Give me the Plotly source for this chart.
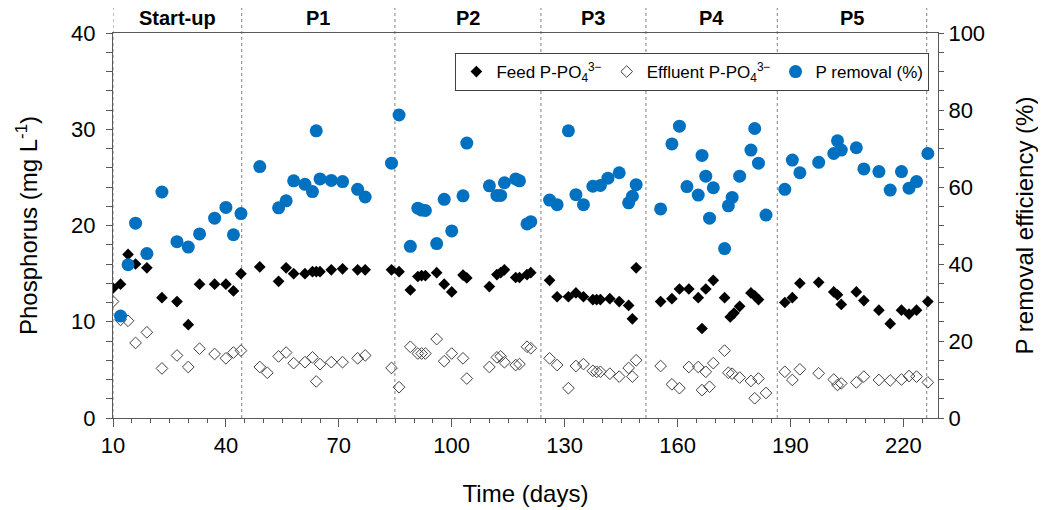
import plotly.graph_objects as go

# ---------------- data ----------------
feed_days = [10, 12, 14, 16, 19, 23, 27, 30, 33, 37, 40, 42, 44,
             49, 54, 56, 58, 61, 63, 64, 65, 68, 71, 75, 77,
             84, 86, 89, 91, 92, 93, 96, 98, 100, 103, 104, 110, 112, 113, 114, 117, 118, 120, 121,
             126, 128, 131, 133, 135, 137.5, 138.5, 139.5, 142, 144.5, 147, 148, 149,
             155.5, 158.5, 160.5, 163, 165.5, 166.5, 167.5, 169.5, 172.5, 174, 175, 176.5, 179.5, 180.5, 181.5,
             188.5, 190.5, 192.5, 197.5, 201.5, 202.5, 203.5, 207.5, 209.5, 213.5, 216.5, 219.5, 221.5, 223.5, 226.5]
feed_vals = [13.5, 13.9, 17.0, 16.0, 15.6, 12.5, 12.1, 9.7, 13.9, 13.9, 13.9, 13.2, 15.0,
             15.7, 14.2, 15.6, 15.0, 15.0, 15.2, 15.2, 15.2, 15.4, 15.5, 15.4, 15.4,
             15.4, 15.2, 13.3, 14.7, 14.8, 14.8, 15.1, 13.9, 13.1, 14.85, 14.55, 13.65, 14.9, 15.1, 15.4, 14.6, 14.6, 14.9, 15.1,
             14.3, 12.6, 12.6, 13.0, 12.6, 12.3, 12.3, 12.3, 12.4, 12.1, 11.7, 10.3, 15.6,
             12.1, 12.4, 13.4, 13.4, 12.5, 9.3, 13.4, 14.3, 12.5, 10.5, 10.9, 11.6, 13.0, 12.7, 12.3,
             12.0, 12.5, 14.0, 14.1, 13.1, 12.8, 11.8, 13.1, 12.2, 11.2, 9.8, 11.2, 10.8, 11.2, 12.1]

eff_days = [10, 12, 14, 16, 19, 23, 27, 30, 33, 37, 40, 42, 44,
            49, 51, 54, 56, 58, 61, 63, 64, 65, 68, 71, 75, 77,
            84, 86, 89, 91, 92, 93, 96, 98, 100, 103, 104, 110, 112, 113, 114, 117, 118, 120, 121,
            126, 128, 131, 133, 135, 137.5, 138.5, 139.5, 142, 144.5, 147, 148, 149,
            155.5, 158.5, 160.5, 163, 165.5, 166.5, 167.5, 168.5, 169.5, 172.5, 173.5, 174.5, 176.5, 179.5, 180.5, 181.5, 183.5,
            188.5, 190.5, 192.5, 197.5, 201.5, 202.5, 203.5, 207.5, 209.5, 213.5, 216.5, 219.5, 221.5, 223.5, 226.5]
eff_vals = [12.1, 10.2, 10.1, 7.8, 8.9, 5.15, 6.5, 5.3, 7.2, 6.65, 6.2, 6.8, 7.0,
            5.3, 4.7, 6.4, 6.8, 5.7, 5.8, 6.3, 3.8, 5.6, 5.8, 5.8, 6.2, 6.5,
            5.2, 3.2, 7.4, 6.7, 6.7, 6.7, 8.2, 5.9, 6.7, 6.2, 4.1, 5.3, 6.3, 6.4, 5.8, 5.5, 5.6, 7.4, 7.25,
            6.2, 5.5, 3.1, 5.4, 5.6, 4.9, 4.8, 4.8, 4.6, 4.3, 5.2, 4.3, 6.0,
            5.4, 3.5, 3.1, 5.3, 5.3, 2.9, 4.8, 3.25, 5.7, 7.0, 4.7, 4.6, 4.2, 3.85, 2.05, 4.1, 2.6,
            4.8, 3.95, 5.06, 4.64, 4.0, 3.43, 3.6, 3.7, 4.3, 3.95, 3.9, 4.0, 4.36, 4.3, 3.7]

rem_days = [12, 14, 16, 19, 23, 27, 30, 33, 37, 40, 42, 44,
            49, 54, 56, 58, 61, 63, 64, 65, 68, 71, 75, 77,
            84, 86, 89, 91, 92, 93, 96, 98, 100, 103, 104, 110, 112, 113, 114, 117, 118, 120, 121,
            126, 128, 131, 133, 135, 137.5, 139.5, 141.5, 144.5, 147, 148, 149,
            155.5, 158.5, 160.5, 162.5, 165.5, 166.5, 167.5, 168.5, 169.5, 172.5, 173.5, 174.5, 176.5, 179.5, 180.5, 181.5, 183.5,
            188.5, 190.5, 192.5, 197.5, 201.5, 202.5, 203.5, 207.5, 209.5, 213.5, 216.5, 219.5, 221.5, 223.5, 226.5]
rem_vals = [26.5, 39.8, 50.6, 42.7, 58.7, 45.8, 44.4, 47.8, 51.9, 54.7, 47.6, 53.1,
            65.3, 54.6, 56.4, 61.6, 60.7, 58.8, 74.6, 62.1, 61.7, 61.4, 59.4, 57.4,
            66.2, 78.7, 44.6, 54.5, 54.0, 53.9, 45.3, 56.8, 48.6, 57.7, 71.4, 60.3, 57.8, 57.8, 61.1, 62.1, 61.6, 50.4, 51.0,
            56.6, 55.4, 74.6, 58.0, 55.4, 60.2, 60.4, 62.3, 63.7, 55.9, 57.6, 60.6,
            54.3, 71.2, 75.8, 60.1, 57.9, 68.2, 62.8, 51.9, 59.8, 44.0, 55.1, 57.3, 62.8, 69.6, 75.2, 66.2, 52.7,
            59.4, 67.0, 63.7, 66.4, 68.7, 72.0, 69.6, 70.2, 64.7, 64.0, 59.2, 64.0, 59.7, 61.4, 68.7]

phase_bounds = [10, 44.2, 84.9, 123.7, 151.6, 186.5, 226.2]
phase_names = ["Start-up", "P1", "P2", "P3", "P4", "P5"]

x_ticks = [10, 40, 70, 100, 130, 160, 190, 220]

# ---------------- figure ----------------
FONT = "Liberation Sans, Arial, sans-serif"
AX = "#595959"

fig = go.Figure()
fig.add_trace(go.Scatter(
    x=feed_days, y=feed_vals, mode="markers",
    name="Feed P-PO<sub>4</sub><sup>3−</sup>",
    marker=dict(symbol="diamond", size=9, color="black", line=dict(width=0)),
))
fig.add_trace(go.Scatter(
    x=eff_days, y=eff_vals, mode="markers",
    name="Effluent P-PO<sub>4</sub><sup>3−</sup>",
    marker=dict(symbol="diamond-open", size=9, color="#404040", line=dict(width=1, color="#404040")),
))
fig.add_trace(go.Scatter(
    x=rem_days, y=rem_vals, mode="markers", yaxis="y2",
    name="P removal (%)",
    marker=dict(symbol="circle", size=13, color="#0070C0", line=dict(width=0)),
))

shapes = []
for b in phase_bounds:
    shapes.append(dict(type="line", xref="x", yref="paper", x0=b, x1=b, y0=0, y1=1.073,
                       line=dict(color="#808080", width=1, dash="dot"), layer="below"))

annotations = []
for i, name in enumerate(phase_names):
    annotations.append(dict(x=(phase_bounds[i] + phase_bounds[i + 1]) / 2, y=1.04,
                            xref="x", yref="paper", text="<b>" + name + "</b>", showarrow=False,
                            font=dict(size=20, color="black", family=FONT), yanchor="middle"))

fig.update_layout(
    template="none",
    width=1046, height=510,
    margin=dict(l=105, r=116, t=25, b=100),
    paper_bgcolor="white", plot_bgcolor="white",
    font=dict(family=FONT, color="black", size=22),
    showlegend=True,
    legend=dict(orientation="h", x=0.415, y=0.948, xanchor="left", yanchor="top",
                bgcolor="white", bordercolor="#404040", borderwidth=1,
                font=dict(size=17, family=FONT, color="black"),
                tracegroupgap=0, itemwidth=30),
    xaxis=dict(range=[10, 229.2], tickvals=x_ticks, ticks="outside", ticklen=8, tickcolor=AX,
               showline=True, linecolor=AX, linewidth=1, mirror=True, showgrid=False, zeroline=False,
               tickfont=dict(size=22), automargin=False,
               minor=dict(dtick=5, tick0=10, ticks="outside", ticklen=4, tickcolor=AX, showgrid=False),
               title=dict(text="Time (days)", font=dict(size=24), standoff=27)),
    yaxis=dict(range=[0, 40], dtick=10, ticks="outside", ticklen=6, tickcolor=AX,
               showline=True, linecolor=AX, linewidth=1, showgrid=False, zeroline=False,
               tickfont=dict(size=22), automargin=False, ticklabelstandoff=6,
               minor=dict(dtick=2, ticks="outside", ticklen=6, tickcolor=AX, showgrid=False),
               title=dict(text="Phosphorus (mg L<sup>-1</sup>)", font=dict(size=24), standoff=26)),
    yaxis2=dict(range=[0, 100], dtick=20, overlaying="y", side="right", ticks="outside", ticklen=5,
                tickcolor=AX, showline=True, linecolor=AX, linewidth=1, showgrid=False, zeroline=False,
                tickfont=dict(size=22), automargin=False,
                minor=dict(dtick=5, ticks="outside", ticklen=5, tickcolor=AX, showgrid=False),
                title=dict(text="P removal efficiency (%)", font=dict(size=24), standoff=32)),
    shapes=shapes,
    annotations=annotations,
)

fig.write_html("out.html")
